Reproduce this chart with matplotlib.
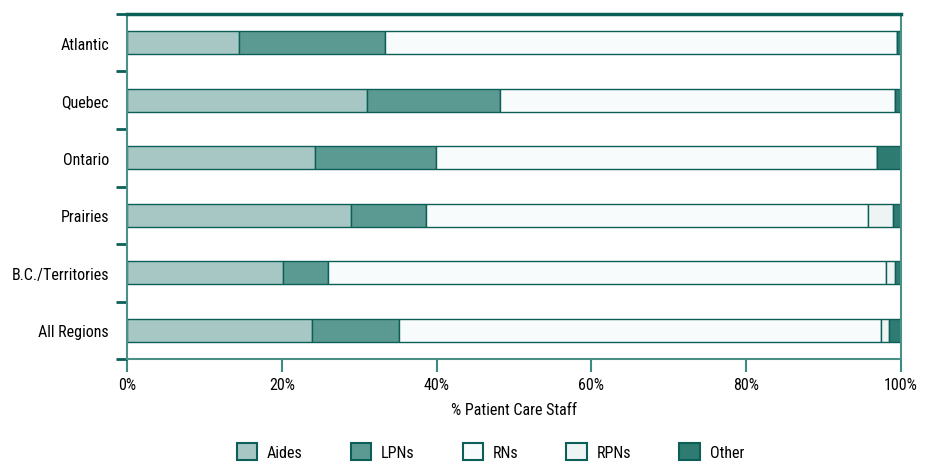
import matplotlib
matplotlib.use("Agg")
import matplotlib.pyplot as plt
from matplotlib.patches import Patch
import numpy as np

plt.rcParams['font.family'] = ['Roboto Condensed', 'DejaVu Sans']
plt.rcParams['font.stretch'] = 'condensed'

regions = ['Atlantic', 'Quebec', 'Ontario', 'Prairies', 'B.C./Territories', 'All Regions']
staff_types = ['Aides', 'LPNs', 'RNs', 'RPNs', 'Other']

# percent of patient care staff by region
aides = [14.5, 31.0, 24.3, 28.9, 20.2, 23.9]
lpns = [18.8, 17.2, 15.6, 9.7, 5.8, 11.2]
rns = [66.2, 51.0, 57.0, 57.1, 72.1, 62.3]
rpns = [0.0, 0.0, 0.0, 3.3, 1.1, 1.0]
other = [0.5, 0.8, 3.1, 1.0, 0.8, 1.6]

colors = ['#a7c7c5', '#5b9a93', '#f7fbfc', '#eef3f3', '#2e7b72']
edge = '#0b5f57'

fig = plt.figure(figsize=(9.25, 4.64), dpi=100)
ax = fig.add_axes([0.1373, 0.2241, 0.8368, 0.7436])

y = np.arange(len(regions))
left = np.zeros(len(regions))
for name, vals, c in zip(staff_types, [aides, lpns, rns, rpns, other], colors):
    vals = np.array(vals)
    ax.barh(y, vals, left=left, height=0.4, color=c, edgecolor=edge, linewidth=1.0)
    left += vals

ax.set_xlim(0, 100)
ax.set_ylim(len(regions) - 0.5, -0.5)

ax.set_yticks(y)
ax.set_yticklabels(regions, fontsize=11.5)
ax.tick_params(axis='y', length=0, pad=13)
ax.set_yticks(np.arange(len(regions) + 1) - 0.5, minor=True)
ax.tick_params(axis='y', which='minor', length=8, width=2, color=edge, direction='out')

ax.set_xticks([0, 20, 40, 60, 80, 100])
ax.set_xticklabels(['0%', '20%', '40%', '60%', '80%', '100%'], fontsize=11.5)
ax.tick_params(axis='x', length=9, width=1.5, color='#3d8a82', pad=4)
ax.set_xlabel('% Patient Care Staff', fontsize=11.5, labelpad=7)

for side in ['left', 'bottom', 'right']:
    ax.spines[side].set_color('#4a8f88')
    ax.spines[side].set_linewidth(1.5)
ax.spines['top'].set_color(edge)
ax.spines['top'].set_linewidth(2.5)

handles = [Patch(facecolor=c, edgecolor=edge, linewidth=1.5) for c in colors]
fig.legend(handles, staff_types, loc='center', bbox_to_anchor=(0.53, 0.025),
           ncol=5, frameon=False, fontsize=11.5, handlelength=1.3, handleheight=1.3,
           columnspacing=3.0, handletextpad=0.6)

fig.savefig('out.png', dpi=100)
